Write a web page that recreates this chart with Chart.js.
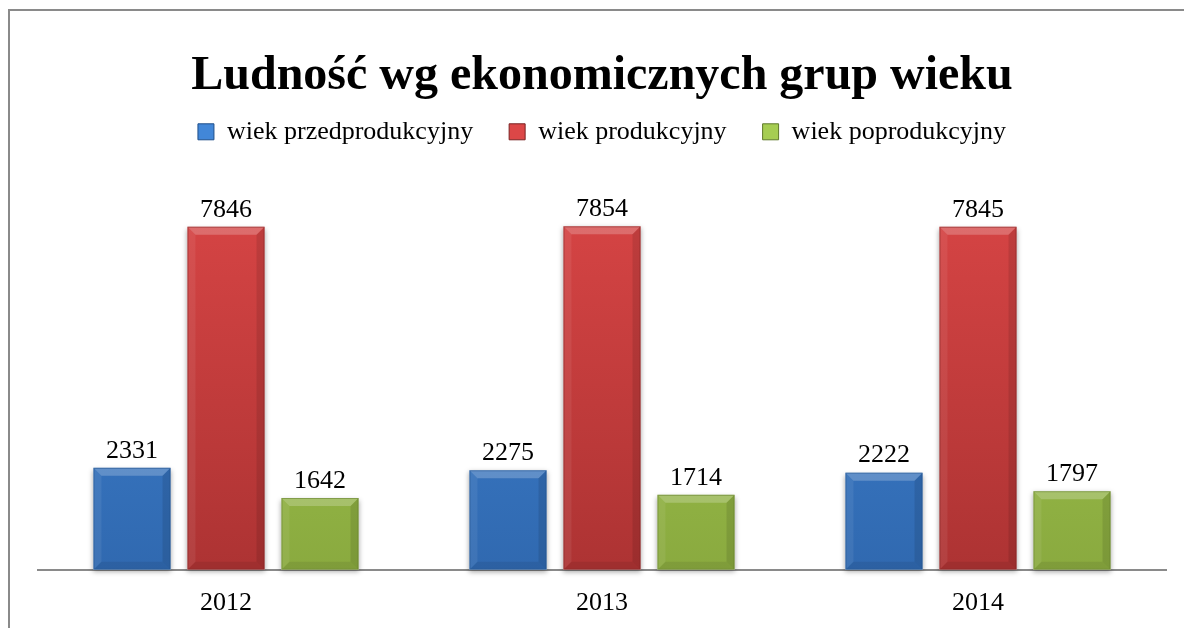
<!DOCTYPE html>
<html><head><meta charset="utf-8">
<script src="https://cdn.jsdelivr.net/npm/chart.js@4/dist/chart.umd.min.js"></script>
<style>html,body{margin:0;padding:0;background:#fff;}#wrap{width:1184px;height:628px;position:relative;}</style>
</head><body><div id="wrap"><canvas id="c" width="1184" height="628"></canvas></div>
<script>
const categories = ['2012', '2013', '2014'];
const seriesNames = ['wiek przedprodukcyjny', 'wiek produkcyjny', 'wiek poprodukcyjny'];
const przedprodukcyjny = [2331, 2275, 2222];
const produkcyjny = [7846, 7854, 7845];
const poprodukcyjny = [1642, 1714, 1797];
const titleText = 'Ludność wg ekonomicznych grup wieku';

const palettes = [
  {top:'#4287d8', bot:'#3069b0', edge:'#1f4f8a'},
  {top:'#dc4747', bot:'#ad3333', edge:'#7a2222'},
  {top:'#a6cd52', bot:'#8aaa3f', edge:'#5f7a2a'}
];
const SERIF = '"Liberation Serif", "Times New Roman", serif';

function grad(ctx, i){
  const chart = ctx.chart; const a = chart.chartArea;
  if(!a) return palettes[i].top;
  const g = chart.ctx.createLinearGradient(0, a.top, 0, a.bottom);
  g.addColorStop(0, palettes[i].top);
  g.addColorStop(1, palettes[i].bot);
  return g;
}

const frame = {
  id:'frame',
  beforeDraw(chart){
    const c = chart.ctx; c.save();
    c.fillStyle='#fff'; c.fillRect(0,0,chart.width,chart.height);
    c.strokeStyle='#8a8a8a'; c.lineWidth=2;
    c.beginPath(); c.moveTo(9,628); c.lineTo(9,10); c.lineTo(1184,10); c.stroke();
    c.restore();
  }
};

const bevel = {
  id:'bevel',
  beforeDatasetsDraw(chart){
    const c = chart.ctx;
    chart.data.datasets.forEach((ds, di)=>{
      chart.getDatasetMeta(di).data.forEach((el)=>{
        const p = el.getProps(['x','y','base','width'], true);
        c.save();
        c.shadowColor='rgba(0,0,0,0.35)'; c.shadowBlur=5; c.shadowOffsetY=2;
        c.fillStyle='#fff';
        c.fillRect(p.x-p.width/2, p.y, p.width, p.base-p.y);
        c.restore();
      });
    });
  },
  afterDatasetsDraw(chart){
    const c = chart.ctx;
    chart.data.datasets.forEach((ds, di)=>{
      const meta = chart.getDatasetMeta(di);
      meta.data.forEach((el, j)=>{
        const p = el.getProps(['x','y','base','width'], true);
        const l = p.x - p.width/2, r = p.x + p.width/2, t = p.y, b = p.base;
        const s = 8;
        c.save();
        c.fillStyle='rgba(255,255,255,0.22)';
        c.beginPath(); c.moveTo(l,t); c.lineTo(r,t); c.lineTo(r-s,t+s); c.lineTo(l+s,t+s); c.closePath(); c.fill();
        c.fillStyle='rgba(255,255,255,0.07)';
        c.beginPath(); c.moveTo(l,t); c.lineTo(l+s,t+s); c.lineTo(l+s,b-s); c.lineTo(l,b); c.closePath(); c.fill();
        c.fillStyle='rgba(0,0,0,0.10)';
        c.beginPath(); c.moveTo(r,t); c.lineTo(r-s,t+s); c.lineTo(r-s,b-s); c.lineTo(r,b); c.closePath(); c.fill();
        c.fillStyle='rgba(0,0,0,0.08)';
        c.beginPath(); c.moveTo(l,b); c.lineTo(l+s,b-s); c.lineTo(r-s,b-s); c.lineTo(r,b); c.closePath(); c.fill();
        c.strokeStyle=palettes[di].edge; c.lineWidth=1; c.globalAlpha=0.5;
        c.strokeRect(l+0.5,t+0.5,p.width-1,b-t-1);
        c.restore();
        c.save();
        c.fillStyle='#000'; c.font='26px '+SERIF; c.textAlign='center'; c.textBaseline='middle';
        c.fillText(String(ds.data[j]), p.x, t-17);
        c.restore();
      });
    });
  }
};

const seriesData = [przedprodukcyjny, produkcyjny, poprodukcyjny];
new Chart(document.getElementById('c'), {
  type:'bar',
  data:{
    labels: categories,
    datasets: seriesData.map((d,i)=>({
      label: seriesNames[i],
      data: d,
      backgroundColor: (ctx)=>grad(ctx,i),
      borderWidth: 0,
      categoryPercentage: 0.75,
      barPercentage: 0.82
    }))
  },
  options:{
    responsive:false, animation:false,
    layout:{padding:{left:38, right:18, top:22, bottom:-9}},
    plugins:{
      title:{display:true, text:titleText, color:'#000', font:{family:SERIF, size:48, weight:'bold', lineHeight:1.1}, padding:{top:28, bottom:-20}},
      legend:{display:true, labels:{color:'#000', font:{family:SERIF, size:26}, boxWidth:16, boxHeight:16, padding:36,
        generateLabels(chart){
          return chart.data.datasets.map((ds,i)=>({text:ds.label, fillStyle:palettes[i].top, strokeStyle:palettes[i].edge, lineWidth:1, datasetIndex:i, hidden:false, fontColor:'#000'}));
        }}},
      tooltip:{enabled:false}
    },
    scales:{
      x:{grid:{display:false, drawTicks:false}, border:{display:true, color:'#8a8a8a', width:2},
         ticks:{color:'#000', font:{family:SERIF, size:26}, padding:18}},
      y:{display:false, min:0, max:9490}
    }
  },
  plugins:[frame, bevel]
});
</script></body></html>
